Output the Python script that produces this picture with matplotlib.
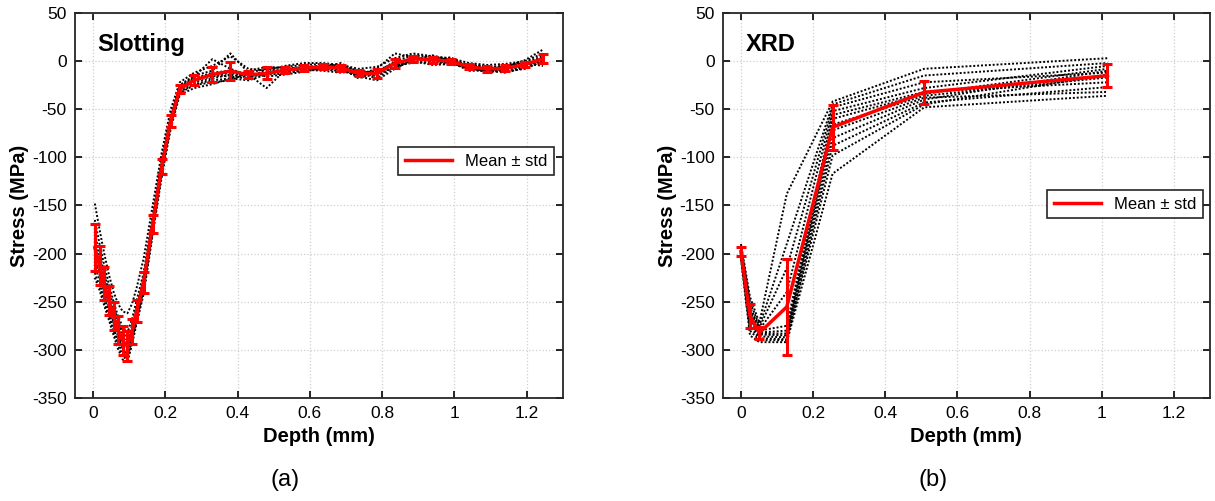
import matplotlib
matplotlib.use("Agg")
import matplotlib.pyplot as plt
from matplotlib.lines import Line2D
import numpy as np

plt.rcParams['font.family'] = ['Liberation Sans', 'DejaVu Sans']
plt.rcParams['axes.unicode_minus'] = False

# ---- Slotting data (depth in mm, stress in MPa), one list per measurement
slot_depth = [0.005, 0.018, 0.031, 0.044, 0.057, 0.069, 0.082, 0.095, 0.108, 0.121,
              0.140, 0.165, 0.190, 0.215, 0.240, 0.280, 0.330, 0.380, 0.430, 0.480,
              0.530, 0.585, 0.635, 0.685, 0.735, 0.785, 0.835, 0.885, 0.940, 0.990,
              1.040, 1.090, 1.140, 1.195, 1.245]
slot_1 = [-148, -175, -200, -222, -240, -252, -260, -262, -252, -235, -205, -150, -95, -50, -22,
          -12, -5, 5, -8, -10, -5, -2, -2, -4, -8, -6, 3, 8, 5, 3, -2, -4, -3, 0, 8]
slot_2 = [-165, -190, -212, -232, -250, -265, -276, -282, -268, -248, -220, -160, -100, -55, -25,
          -15, -10, 8, -12, -8, -6, -4, -3, -5, -10, -12, 0, 6, 4, 2, -4, -6, -5, -1, 5]
slot_3 = [-180, -200, -220, -238, -255, -270, -282, -288, -275, -255, -225, -165, -105, -58, -26,
          -16, 2, -8, -15, -12, -8, -6, -5, -6, -12, -15, -2, 3, 2, 1, -5, -8, -6, -3, 2]
slot_4 = [-188, -206, -225, -242, -258, -273, -286, -293, -280, -258, -228, -168, -108, -60, -27,
          -18, -12, -10, -14, -28, -10, -8, -6, -8, -14, -8, 8, 4, 0, -2, -8, -10, -8, -4, 0]
slot_5 = [-195, -212, -230, -248, -264, -278, -290, -297, -283, -262, -231, -170, -110, -62, -28,
          -20, -16, -12, -16, -14, -9, -6, -7, -2, -12, -18, -5, 1, 6, 0, -6, -12, -9, -5, 2]
slot_6 = [-200, -218, -236, -252, -268, -282, -295, -301, -285, -263, -233, -172, -112, -64, -30,
          -22, -18, -14, -17, -12, -12, -10, -8, -9, -16, -20, -8, 2, 1, 4, -8, -9, -10, -6, -2]
slot_7 = [-206, -222, -240, -256, -272, -286, -298, -305, -288, -265, -235, -174, -113, -65, -31,
          -18, -15, -16, -18, -8, -11, -7, -9, -10, -15, -14, -6, 0, -2, -1, -10, -10, -12, -7, 4]
slot_8 = [-212, -228, -245, -261, -277, -291, -302, -308, -290, -268, -237, -176, -115, -66, -32,
          -24, -20, -18, -20, -14, -13, -9, -10, -12, -10, -16, -4, -2, -1, -4, -4, -5, -11, -8, 0]
slot_9 = [-220, -234, -250, -265, -281, -295, -306, -311, -292, -270, -240, -178, -118, -68, -33,
          -25, -22, -20, -12, -16, -14, -11, -7, -6, -18, -11, -7, 0, -4, -3, -7, -11, -5, -2, -5]
slot_10 = [-225, -238, -254, -269, -285, -299, -310, -313, -294, -272, -242, -180, -120, -70, -35,
           -28, -24, -18, -10, -6, -7, -8, -4, -7, -13, -10, -2, 2, 3, -2, -5, -7, -6, 1, 12]
slot_curves = [slot_1, slot_2, slot_3, slot_4, slot_5, slot_6, slot_7, slot_8, slot_9, slot_10]

# ---- XRD data
xrd_depth = [0.0, 0.025, 0.051, 0.127, 0.254, 0.508, 1.016]
xrd_1 = [-190, -245, -272, -138, -42, -8, 3]
xrd_2 = [-192, -250, -275, -190, -45, -15, -2]
xrd_3 = [-194, -255, -277, -215, -48, -22, -12]
xrd_4 = [-195, -258, -279, -240, -52, -28, -5]
xrd_5 = [-196, -260, -280, -275, -56, -32, -22]
xrd_6 = [-198, -263, -282, -280, -60, -34, -8]
xrd_7 = [-199, -266, -283, -283, -66, -36, -17]
xrd_8 = [-200, -268, -284, -285, -72, -38, -32]
xrd_9 = [-201, -272, -286, -287, -80, -40, -10]
xrd_10 = [-202, -276, -288, -289, -88, -43, -27]
xrd_11 = [-204, -280, -290, -290, -98, -45, -14]
xrd_12 = [-206, -285, -292, -292, -117, -48, -36]
xrd_curves = [xrd_1, xrd_2, xrd_3, xrd_4, xrd_5, xrd_6, xrd_7, xrd_8, xrd_9, xrd_10, xrd_11, xrd_12]

panels = [("Slotting", slot_depth, slot_curves, "(a)"),
          ("XRD", xrd_depth, xrd_curves, "(b)")]

fig = plt.figure(figsize=(12.15, 5.01), dpi=100)
ax_pos = [[0.0617, 0.2056, 0.4016, 0.7685],
          [0.5950, 0.2056, 0.4008, 0.7685]]
legend_anchor = [(0.982, 0.652), (0.986, 0.540)]
label_x = [0.2346, 0.768]

for i, (name, depth, curves, tag) in enumerate(panels):
    ax = fig.add_axes(ax_pos[i])
    data = np.array(curves, dtype=float)
    for c in data:
        ax.plot(depth, c, color='black', linestyle=(0, (1, 1)), linewidth=1.4)
    mean = data.mean(axis=0)
    std = data.std(axis=0, ddof=1)
    ax.errorbar(depth, mean, yerr=std, color='red', linewidth=2.5,
                capsize=3.5, capthick=2.2, elinewidth=2.2, zorder=5)

    ax.set_xlim(-0.05, 1.3)
    ax.set_ylim(-350, 50)
    ax.set_xticks([0, 0.2, 0.4, 0.6, 0.8, 1, 1.2])
    ax.set_xticklabels(['0', '0.2', '0.4', '0.6', '0.8', '1', '1.2'])
    ax.set_yticks(np.arange(-350, 51, 50))
    ax.grid(True, color='#cfcfcf', linestyle=':', linewidth=0.9)
    ax.tick_params(direction='in', top=True, right=True, length=5, width=1.2,
                   labelsize=12.5, pad=6)
    for s in ax.spines.values():
        s.set_linewidth(1.3)
        s.set_color('#262626')

    ax.set_xlabel('Depth (mm)', fontsize=14.5, fontweight='bold')
    ax.set_ylabel('Stress (MPa)', fontsize=14.5, fontweight='bold')
    ax.xaxis.set_label_coords(0.5, -0.075)
    ax.yaxis.set_label_coords(-0.094, 0.5)

    ax.text(0.045 if i == 0 else 0.047, 0.90, name, transform=ax.transAxes,
            fontsize=17, fontweight='bold', va='baseline')

    handle = Line2D([], [], color='red', linewidth=2.5)
    leg = ax.legend([handle], ['Mean \u00b1 std'], loc='upper right',
                    bbox_to_anchor=legend_anchor[i], borderaxespad=0, fontsize=12,
                    fancybox=False, framealpha=1, edgecolor='#262626', handlelength=2.8)
    leg.get_frame().set_linewidth(1.2)

    fig.text(label_x[i], 0.042, tag, fontsize=17, ha='center', va='center')

fig.savefig('out.png', dpi=100)
